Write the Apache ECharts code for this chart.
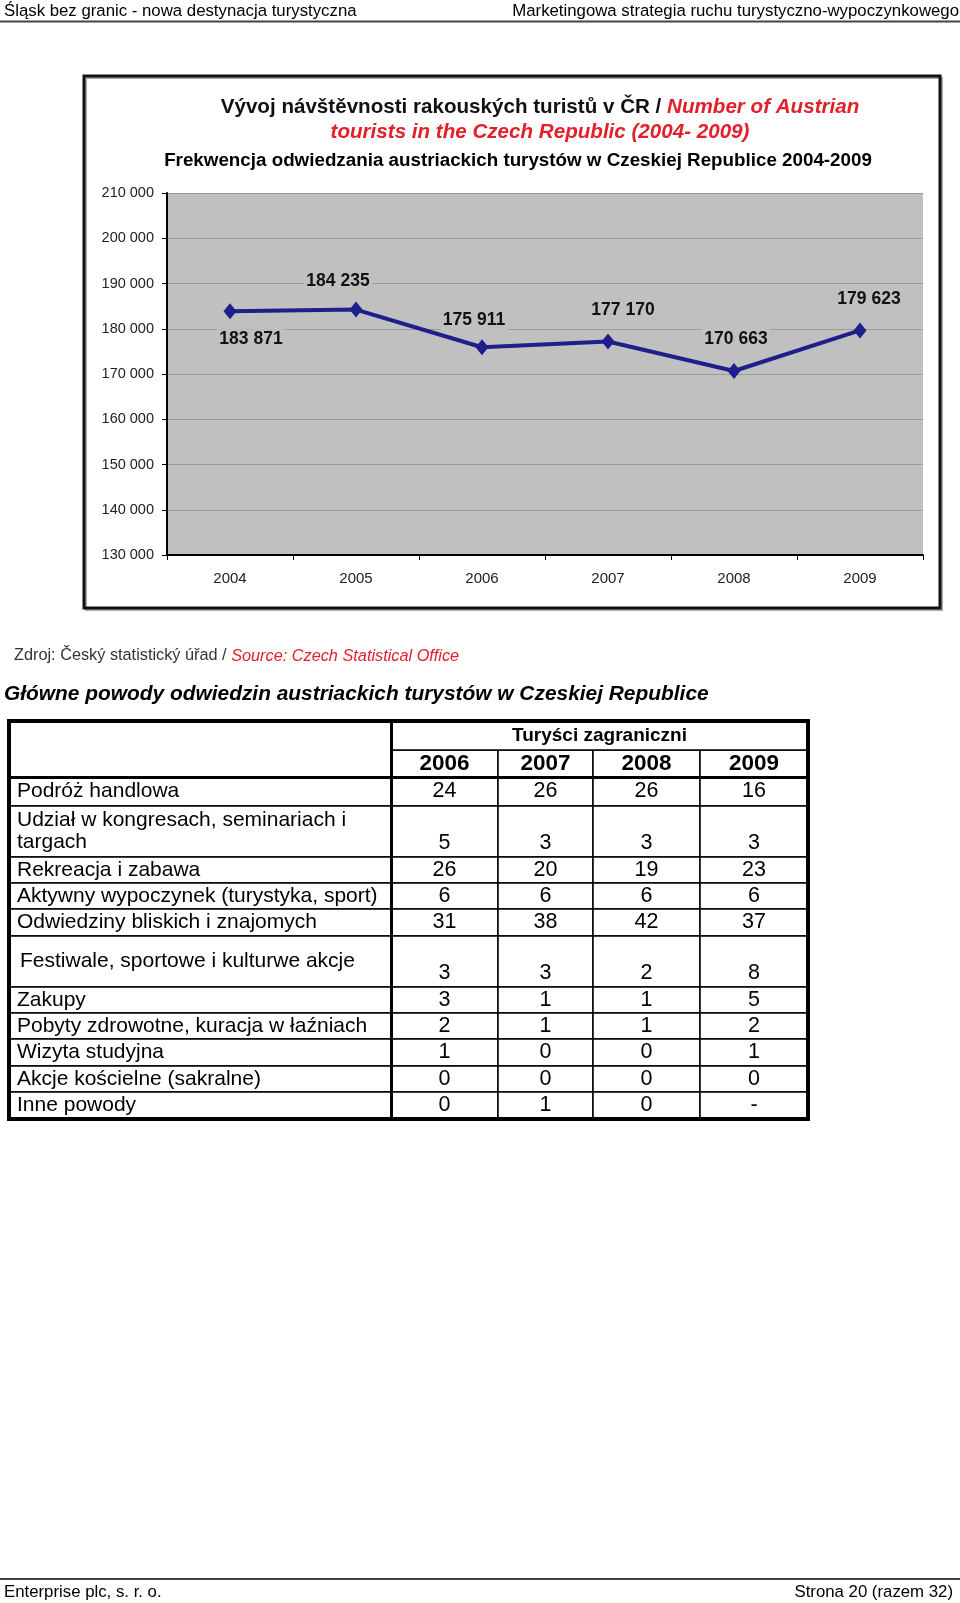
<!DOCTYPE html>
<html><head><meta charset="utf-8">
<script src="https://cdn.jsdelivr.net/npm/echarts@6/dist/echarts.min.js"></script>
<style>html,body{margin:0;padding:0;background:#fff}#c{width:960px;height:1603px}</style>
</head><body><div id="c"></div>
<script>
// ---------- DATA ----------
const years = ['2004', '2005', '2006', '2007', '2008', '2009'];
const visitors = [183871, 184235, 175911, 177170, 170663, 179623];
const yAxisRange = [130000, 210000, 10000];

const tableGroup = 'Turyści zagraniczni';
const tableYears = ['2006', '2007', '2008', '2009'];
const reasons = [
  'Podróż handlowa',
  'Udział w kongresach, seminariach i targach',
  'Rekreacja i zabawa',
  'Aktywny wypoczynek (turystyka, sport)',
  'Odwiedziny bliskich i znajomych',
  'Festiwale, sportowe i kulturwe akcje',
  'Zakupy',
  'Pobyty zdrowotne, kuracja w łaźniach',
  'Wizyta studyjna',
  'Akcje kościelne (sakralne)',
  'Inne powody'
];
const share2006 = [24, 5, 26, 6, 31, 3, 3, 2, 1, 0, 0];
const share2007 = [26, 3, 20, 6, 38, 3, 1, 1, 0, 0, 1];
const share2008 = [26, 3, 19, 6, 42, 2, 1, 1, 0, 0, 0];
const share2009 = [16, 3, 23, 6, 37, 8, 5, 2, 1, 0, '-'];

const headerLeft = 'Śląsk bez granic - nowa destynacja turystyczna';
const headerRight = 'Marketingowa strategia ruchu turystyczno-wypoczynkowego';
const titleCz = 'Vývoj návštěvnosti rakouských turistů v ČR / ';
const titleEn1 = 'Number of Austrian';
const titleEn2 = 'tourists in the Czech Republic (2004- 2009)';
const titlePl = 'Frekwencja odwiedzania austriackich turystów w Czeskiej Republice 2004-2009';
const sourceCz = 'Zdroj: Český statistický úřad / ';
const sourceEn = 'Source: Czech Statistical Office';
const tableHeading = 'Główne powody odwiedzin austriackich turystów w Czeskiej Republice';
const footerLeft = 'Enterprise plc, s. r. o.';
const footerRight = 'Strona 20 (razem 32)';

// ---------- LAYOUT / STYLE ----------
const SANS = '"Liberation Sans", Arial, sans-serif';
const labelOffsets = [[21, 28], [-18, -28], [-8, -27], [15, -31], [2, -32], [9, -31]];
const colW = [107, 95, 107, 108];
const rowH = [28.6, 51.2, 25.5, 26.6, 26.6, 51.1, 25.6, 26.5, 26.6, 26.6, 26.6];
const tallRows = [1, 5];
const rowLabelTweaks = {
  1: { position: [5, '54%'], overflow: 'break', width: 420 },
  5: { position: 'insideTopLeft', distance: 8 }
};

const fmt = n => String(n).replace(/\B(?=(\d{3})+(?!\d))/g, ' ');
const yearCols = [share2006, share2007, share2008, share2009];

const cells = [];
reasons.forEach((r, i) => {
  yearCols.forEach((col, j) => {
    const c = { coord: [j, i], value: String(col[i]) };
    if (tallRows.indexOf(i) >= 0) c.label = { position: 'insideBottom', distance: 1, align: 'center', verticalAlign: 'bottom' };
    cells.push(c);
  });
});

const chart = echarts.init(document.getElementById('c'), null, { renderer: 'canvas' });
const cellStyle = { color: '#fff', borderColor: '#000', borderWidth: 1.5 };

chart.setOption({
  animation: false,
  backgroundColor: '#fff',
  grid: {
    left: 167, top: 193, width: 756, height: 362,
    show: true, backgroundColor: '#c0c0c0', borderWidth: 0
  },
  xAxis: {
    type: 'category',
    data: years,
    boundaryGap: true,
    axisLine: { lineStyle: { color: '#000', width: 2 } },
    axisTick: { show: true, length: 5, lineStyle: { color: '#000' } },
    axisLabel: { fontFamily: SANS, fontSize: 15, color: '#222', margin: 16 },
    splitLine: { show: false }
  },
  yAxis: {
    type: 'value',
    min: yAxisRange[0], max: yAxisRange[1], interval: yAxisRange[2],
    axisLine: { show: true, lineStyle: { color: '#000', width: 2 } },
    axisTick: { show: true, length: 5, lineStyle: { color: '#000' } },
    axisLabel: { fontFamily: SANS, fontSize: 14.5, color: '#222', margin: 13, formatter: v => fmt(v) },
    splitLine: { show: true, lineStyle: { color: '#9a9a9a', width: 1 } }
  },
  series: [{
    type: 'line',
    data: visitors.map((v, i) => ({ value: v, label: { offset: labelOffsets[i] } })),
    lineStyle: { color: '#1f1f8c', width: 4 },
    itemStyle: { color: '#1f1f8c' },
    symbol: 'diamond',
    symbolSize: [13, 16],
    label: {
      show: true, position: 'inside',
      formatter: p => fmt(p.value),
      fontFamily: SANS, fontSize: 17.5, fontWeight: 'bold', color: '#111',
      backgroundColor: '#c0c0c0', padding: [1, 3]
    },
    z: 5
  }],
  matrix: {
    left: 9, top: 721, width: 799, height: 398,
    backgroundStyle: { color: '#fff', borderColor: '#000', borderWidth: 4 },
    corner: { itemStyle: { color: '#fff', borderColor: '#000', borderWidth: 0 } },
    x: {
      data: [{
        value: tableGroup,
        label: { fontSize: 19 },
        children: tableYears.map((y, i) => ({ value: y, size: colW[i] }))
      }],
      levels: [{ levelSize: 28.6 }, { levelSize: 27.6 }],
      label: {
        position: ['50%', '57%'], align: 'center', verticalAlign: 'middle',
        fontFamily: SANS, fontSize: 22.5, fontWeight: 'bold', color: '#000'
      },
      itemStyle: cellStyle,
      dividerLineStyle: { color: '#000', width: 3 }
    },
    y: {
      data: reasons.map((r, i) => {
        const item = { value: r, size: rowH[i] };
        if (rowLabelTweaks[i]) item.label = rowLabelTweaks[i];
        return item;
      }),
      levelSize: 382,
      label: {
        position: [5, '70%'], align: 'left', verticalAlign: 'middle',
        fontFamily: SANS, fontSize: 21, color: '#000',
        overflow: 'none', lineHeight: 22
      },
      itemStyle: cellStyle,
      dividerLineStyle: { color: '#000', width: 3 }
    },
    body: {
      data: cells,
      label: {
        position: ['50%', '70%'], align: 'center', verticalAlign: 'middle',
        fontFamily: SANS, fontSize: 21.5, color: '#000'
      },
      itemStyle: cellStyle
    }
  },
  graphic: [
    { type: 'text', x: 4, y: 11, style: { text: headerLeft, font: '16.8px ' + SANS, fill: '#000', verticalAlign: 'middle' } },
    { type: 'text', x: 959, y: 11, style: { text: headerRight, font: '16.8px ' + SANS, fill: '#000', align: 'right', verticalAlign: 'middle' } },
    { type: 'line', shape: { x1: 0, y1: 21.5, x2: 960, y2: 21.5 }, style: { stroke: '#444', lineWidth: 2 } },
    { type: 'rect', shape: { x: 86, y: 78, width: 856, height: 532 }, style: { fill: 'none', stroke: '#aaa', lineWidth: 2 } },
    { type: 'rect', shape: { x: 84, y: 76, width: 856, height: 532 }, style: { fill: 'none', stroke: '#111', lineWidth: 3 } },
    { type: 'text', x: 540, y: 107, style: {
      text: '{a|' + titleCz + '}{b|' + titleEn1 + '}', align: 'center', verticalAlign: 'middle',
      rich: {
        a: { font: 'bold 20.6px ' + SANS, fill: '#111' },
        b: { font: 'italic bold 20.6px ' + SANS, fill: '#e3202a' }
      }
    } },
    { type: 'text', x: 540, y: 132, style: { text: titleEn2, font: 'italic bold 20.6px ' + SANS, fill: '#e3202a', align: 'center', verticalAlign: 'middle' } },
    { type: 'text', x: 518, y: 161, style: { text: titlePl, font: 'bold 18.8px ' + SANS, fill: '#000', align: 'center', verticalAlign: 'middle' } },
    { type: 'text', x: 14, y: 656, style: {
      text: '{a|' + sourceCz + '}{b|' + sourceEn + '}', verticalAlign: 'middle',
      rich: {
        a: { font: '16.3px ' + SANS, fill: '#333' },
        b: { font: 'italic 16.3px ' + SANS, fill: '#e3202a' }
      }
    } },
    { type: 'text', x: 4, y: 694, style: { text: tableHeading, font: 'italic bold 20.9px ' + SANS, fill: '#000', verticalAlign: 'middle' } },
    { type: 'line', shape: { x1: 0, y1: 1579, x2: 960, y2: 1579 }, style: { stroke: '#444', lineWidth: 2 } },
    { type: 'text', x: 4, y: 1592, style: { text: footerLeft, font: '16.8px ' + SANS, fill: '#000', verticalAlign: 'middle' } },
    { type: 'text', x: 953, y: 1592, style: { text: footerRight, font: '16.8px ' + SANS, fill: '#000', align: 'right', verticalAlign: 'middle' } }
  ]
});
</script>
</body></html>
